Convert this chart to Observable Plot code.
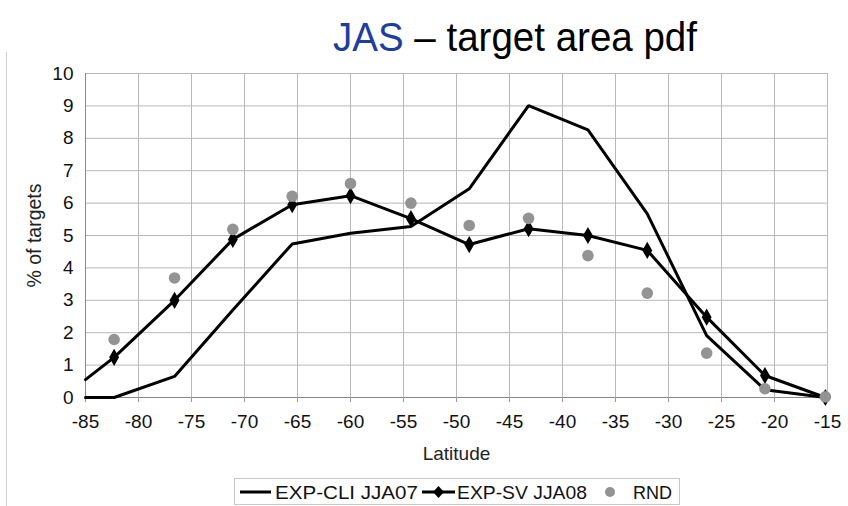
<!DOCTYPE html>
<html>
<head>
<meta charset="utf-8">
<script src="https://cdn.jsdelivr.net/npm/d3@7"></script>
<script src="https://cdn.jsdelivr.net/npm/@observablehq/plot@0.6"></script>
<style>
  html, body { margin: 0; padding: 0; background: #fff; }
  #wrap { position: relative; width: 848px; height: 506px; overflow: hidden; font-family: "Liberation Sans", Arial, sans-serif; }
  #frame { position: absolute; left: 6px; top: 52px; width: 0; height: 460px; border-left: 1.5px solid #d0d0d0; }
  #title { position: absolute; left: 0; top: 0; }
  #chart { position: absolute; left: 0; top: 60px; }
  #legend { position: absolute; left: 0; top: 0; }
</style>
</head>
<body>
<div id="wrap">
  <div id="frame"></div>
  <svg id="title" width="848" height="60">
    <text x="333" y="51" font-family="Liberation Sans, Arial, sans-serif" font-size="40" textLength="364" lengthAdjust="spacingAndGlyphs"><tspan fill="#1f3e9c">JAS</tspan><tspan fill="#000"> – target area pdf</tspan></text>
  </svg>
  <div id="chart"></div>
  <svg id="legend" width="848" height="506" style="pointer-events:none"></svg>
</div>
<script>
// Data
const latitude   = [-85, -82.3, -76.6, -71.1, -65.5, -60.0, -54.3, -48.8, -43.2, -37.6, -32.0, -26.4, -20.9, -15.2];
const expCli     = [0,    0,     0.65,  2.7,   4.74,  5.07,  5.28,  6.44,  9.01,  8.26,  5.67,  1.91,  0.24,  0];
const expSv      = [0.55, 1.24,  3.0,   4.88,  5.95,  6.23,  5.52,  4.72,  5.21,  5.0,   4.54,  2.48,  0.68,  0];
const rnd        = [null, 1.79,  3.69,  5.19,  6.21,  6.6,   6.0,   5.31,  5.53,  4.38,  3.22,  1.37,  0.27,  0.02];
const seriesNames = ["EXP-CLI JJA07", "EXP-SV JJA08", "RND"];
const xTicks = d3.range(-85, -14, 5);
const yTicks = d3.range(0, 11, 1);

const rows = latitude.map((lat, i) => ({lat, cli: expCli[i], sv: expSv[i], rnd: rnd[i], i}));
const markerRows = rows.filter(d => d.i > 0);
const rndRows = rows.filter(d => d.rnd != null);

const font = "Liberation Sans, Arial, sans-serif";

const chart = Plot.plot({
  width: 848,
  height: 410,
  marginLeft: 85,
  marginRight: 21,
  marginTop: 13,
  marginBottom: 73,
  style: {fontFamily: font, fontSize: "19px", color: "#111", background: "transparent"},
  x: {domain: [-85, -15], ticks: xTicks, label: null},
  y: {domain: [0, 10], ticks: yTicks, label: null},
  marks: [
    Plot.gridX(xTicks, {stroke: "#b8b8b8", strokeOpacity: 1, strokeWidth: 1}),
    Plot.gridY(yTicks, {stroke: "#b8b8b8", strokeOpacity: 1, strokeWidth: 1}),
    Plot.ruleY([0], {stroke: "#888", strokeWidth: 1}),
    Plot.ruleX([-85], {stroke: "#888", strokeWidth: 1}),
    Plot.axisX(xTicks, {tickSize: 5, tickPadding: 12, stroke: "#999", fontSize: 19, tickFormat: d => String(d)}),
    Plot.axisY(yTicks, {tickSize: 0, tickPadding: 12, fontSize: 19, tickFormat: d => String(d)}),
    Plot.text(["Latitude"], {frameAnchor: "bottom", textAnchor: "middle", lineAnchor: "middle", dy: 56, fontSize: 19, fill: "#222"}),
    Plot.text(["% of targets"], {frameAnchor: "left", textAnchor: "middle", lineAnchor: "middle", dx: -51, rotate: -90, fontSize: 19.5, fill: "#222"}),
    Plot.line(rows, {x: "lat", y: "cli", stroke: "#000", strokeWidth: 3, strokeLinejoin: "miter"}),
    Plot.line(rows, {x: "lat", y: "sv", stroke: "#000", strokeWidth: 3, strokeLinejoin: "miter"}),
    Plot.dot(markerRows, {x: "lat", y: "sv", symbol: "diamond", r: 5.2, fill: "#000", stroke: "none"}),
    Plot.dot(rndRows, {x: "lat", y: "rnd", r: 5.8, fill: "#939393", stroke: "none"})
  ]
});
document.getElementById("chart").appendChild(chart);

// Legend (below the chart)
const leg = d3.select("#legend");
leg.append("rect").attr("x", 234.5).attr("y", 478.5).attr("width", 445).attr("height", 26)
  .attr("fill", "none").attr("stroke", "#c8c8c8");
const ly = 492;
leg.append("line").attr("x1", 240).attr("x2", 271).attr("y1", ly).attr("y2", ly).attr("stroke", "#000").attr("stroke-width", 3);
leg.append("line").attr("x1", 422).attr("x2", 455).attr("y1", ly).attr("y2", ly).attr("stroke", "#000").attr("stroke-width", 3);
leg.append("path").attr("d", `M438.5 ${ly-6}L444 ${ly}L438.5 ${ly+6}L433 ${ly}Z`).attr("fill", "#000");
leg.append("circle").attr("cx", 610).attr("cy", ly).attr("r", 5).attr("fill", "#939393");
const labels = [{x: 275, w: 143, t: seriesNames[0]}, {x: 457, w: 130, t: seriesNames[1]}, {x: 633, w: 39, t: seriesNames[2]}];
for (const l of labels) {
  leg.append("text").attr("x", l.x).attr("y", ly + 6.5).attr("font-family", font).attr("font-size", 18.5)
    .attr("fill", "#111").attr("textLength", l.w).attr("lengthAdjust", "spacingAndGlyphs").text(l.t);
}
</script>
</body>
</html>
